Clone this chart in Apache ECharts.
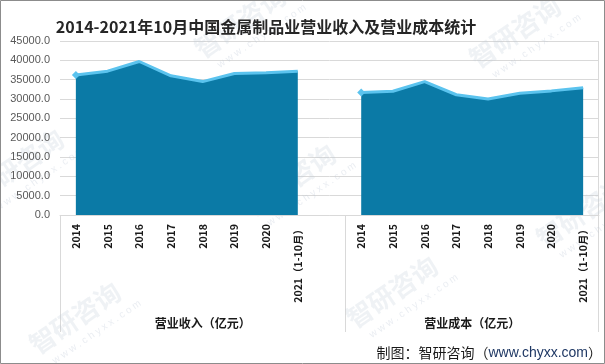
<!DOCTYPE html>
<html><head><meta charset="utf-8">
<script src="https://cdn.jsdelivr.net/npm/echarts@6/dist/echarts.min.js"></script>
<style>html,body{margin:0;padding:0;background:#fff}#c{width:605px;height:364px}</style>
</head><body><div id="c"></div>
<script>
const titleText = '2014-2021年10月中国金属制品业营业收入及营业成本统计';
const years = ['2014','2015','2016','2017','2018','2019','2020','2021（1-10月）'];
const groupNames = ['营业收入（亿元）','营业成本（亿元）'];
const revenue = [36200, 37200, 39700, 36000, 34500, 36600, 36800, 37200];
const cost = [31700, 32000, 34500, 31100, 30000, 31500, 32100, 32900];
const yMin = 0, yMax = 45000, yStep = 5000;
const sourceText = '制图：智研咨询（';
const sourceUrl = 'www.chyxx.com';

const categories = years.concat([''], years);
const gap = years.length + 1;
function firstMark(v){return {value:v, symbol:'diamond', symbolSize:8, itemStyle:{color:'#5BC3EE'}};}
const s1 = revenue.map((v,i)=> i===0 ? firstMark(v) : v).concat(Array(categories.length - years.length).fill('-'));
const s2 = Array(gap).fill('-').concat(cost.map((v,i)=> i===0 ? firstMark(v) : v));

const chart = echarts.init(document.getElementById('c'), null, {renderer:'canvas'});
const areaColor = '#0B7AA6', lineColor = '#5BC3EE';
function mkSeries(d){
  return {type:'line', data:d, symbol:'none', showSymbol:true, connectNulls:false,
    lineStyle:{color:lineColor, width:3}, areaStyle:{color:areaColor, opacity:1},
    itemStyle:{color:lineColor}, emphasis:{disabled:true}, silent:true, animation:false, z:2};
}
const option = {
  animation:false,
  title:{text:titleText, left:261, top:14, textAlign:'center',
    textStyle:{fontSize:16, fontWeight:'bold', color:'#262626', fontFamily:'Noto Sans CJK SC'}},
  grid:{left:60, right:6, top:41, bottom:149, containLabel:false},
  xAxis:{type:'category', data:categories, boundaryGap:true,
    axisLine:{show:true, lineStyle:{color:'#d9d9d9'}},
    axisTick:{show:false},
    axisLabel:{interval:0, rotate:90, margin:9, fontSize:10.5, fontWeight:'bold', color:'#1a1a1a', fontFamily:'Noto Sans CJK SC'}},
  yAxis:{type:'value', min:yMin, max:yMax, interval:yStep,
    axisLine:{show:false}, axisTick:{show:false},
    splitLine:{lineStyle:{color:'#d9d9d9'}},
    axisLabel:{margin:10, fontSize:11, color:'#595959', fontFamily:'Liberation Sans', formatter:v=>v.toFixed(1)}},
  series:[mkSeries(s1), mkSeries(s2)]
};
chart.setOption(option);

const c0 = chart.convertToPixel({xAxisIndex:0}, 0);
const c1 = chart.convertToPixel({xAxisIndex:0}, 1);
const bw = c1 - c0;
const yZero = chart.convertToPixel({yAxisIndex:0}, yMin);
const yTop = chart.convertToPixel({yAxisIndex:0}, yMax);
const sepLen = 117;
const b0 = c0 - bw/2;
const bMid = chart.convertToPixel({xAxisIndex:0}, gap) - bw/2;
const bEnd = chart.convertToPixel({xAxisIndex:0}, categories.length-1) + bw/2;
const gray = '#d9d9d9';
const g = [];
function vline(x, y1, y2){ g.push({type:'line', shape:{x1:Math.round(x)+0.5, y1:y1, x2:Math.round(x)+0.5, y2:y2}, style:{stroke:gray, lineWidth:1}, silent:true}); }
vline(b0, yZero, yZero+sepLen);
vline(bMid, yZero, yZero+sepLen);
vline(bEnd-1, yTop, yZero+sepLen);
const labelY = yZero + 108;
[[b0,bMid],[bMid,bEnd]].forEach((r,i)=>{
  g.push({type:'text', x:(r[0]+r[1])/2, y:labelY, silent:true,
    style:{text:groupNames[i], fontSize:12, fontWeight:'bold', fill:'#1a1a1a', fontFamily:'Noto Sans CJK SC', align:'center', verticalAlign:'middle'}});
});
// watermarks
const wm = [[240,22],[515,32],[18,165],[290,180],[582,212],[75,318],[392,292]];
wm.forEach(p=>{
  g.push({type:'group', x:p[0], y:p[1], rotation:0.6, silent:true, z:100, children:[
    {type:'text', x:0, y:0, style:{text:'智研咨询', fontSize:26, fontWeight:'bold', fill:'rgba(190,200,215,0.24)', fontFamily:'Noto Sans CJK SC', align:'center', verticalAlign:'middle'}},
    {type:'text', x:10, y:24, style:{text:'w w w . c h y x x . c o m', fontSize:10, fill:'rgba(190,200,215,0.32)', fontFamily:'Liberation Sans', align:'center', verticalAlign:'middle'}}
  ]});
});
// source
g.push({type:'text', right:3, bottom:4, silent:true, z:101, style:{rich:{a:{fontSize:14, fill:'#1a1a1a', fontFamily:'Noto Sans CJK SC'}, b:{fontSize:14, fill:'#1F3864', fontFamily:'Liberation Sans'}}, text:'{a|'+sourceText+'}{b|'+sourceUrl+'}{a|）}'}});
g.push({type:'rect', shape:{x:0.5, y:0.5, width:604, height:363}, style:{fill:'none', stroke:'#8c8c8c', lineWidth:1}, silent:true, z:102});
chart.setOption({graphic:g});
</script></body></html>
